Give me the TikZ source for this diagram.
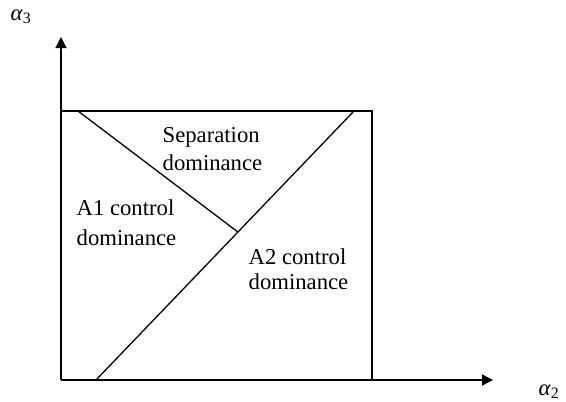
\documentclass[tikz,border=0pt]{standalone}
\usepackage{fontspec}
\setmainfont{Liberation Serif}
\usetikzlibrary{arrows.meta,calc}

\begin{document}
\begin{tikzpicture}[x=1pt,y=-1pt,line width=1.3pt,
    font=\fontsize{22.7}{27}\selectfont,
    region/.style={anchor=north west,inner sep=0pt,align=left},
    axislabel/.style={anchor=base west,inner sep=0pt}]
\useasboundingbox (0,0) rectangle (566,402);
\coordinate (O) at (61,380);
\coordinate (ytip) at (61,37);
\coordinate (xtip) at (493,380);
\coordinate (tl) at (61,111);
\coordinate (tr) at (372,111);
\coordinate (br) at (372,380);
\coordinate (d1) at (96,380);
\coordinate (d2) at (354,111);
\coordinate (s1) at (78,111);
\coordinate (s2) at ($(d1)!0.55!(d2)$);
\begin{scope}[-{Triangle[length=11pt,width=11pt]}]
    \draw (O)--(ytip);
    \draw (O)--(xtip);
\end{scope}
\draw (tl)--(tr)--(br);
\draw (d1)--(d2);
\draw (s1)--(s2);% boundary of separation region
\node[region,font=\fontsize{22.7}{28}\selectfont] (sep) at (162,126.7) {Separation\\dominance};
\node[region,font=\fontsize{22.7}{30}\selectfont] (ctrlA) at (76,199.5) {A1 control\\dominance};
\node[region,font=\fontsize{22.7}{24.5}\selectfont] (ctrlB) at (248,248.5) {A2 control\\dominance};
\node[axislabel] (alpha3) at (10,20) {\textit{α}\textsubscript{3}};
\node[axislabel] (alpha2) at (538,395) {\textit{α}\textsubscript{2}};
\end{tikzpicture}
\end{document}
